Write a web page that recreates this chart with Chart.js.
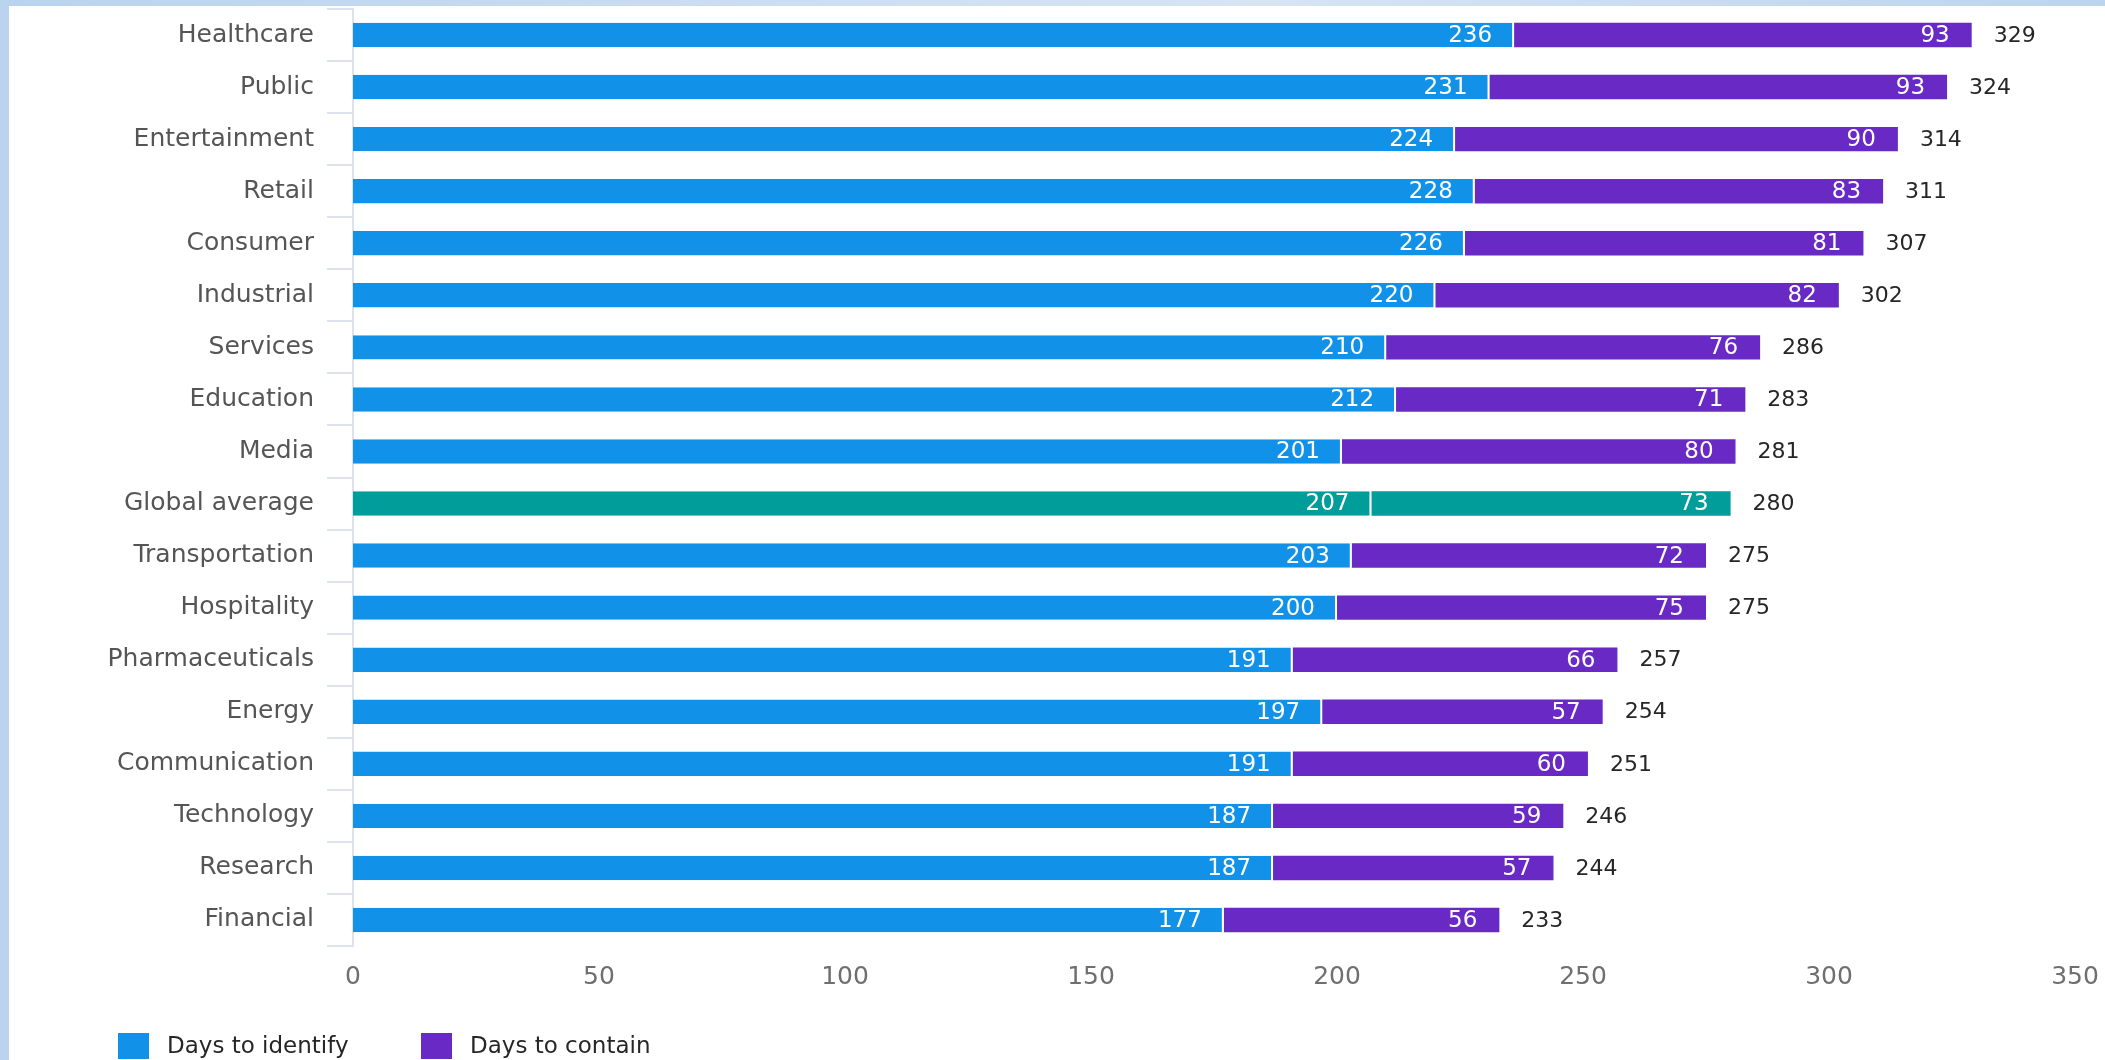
<!DOCTYPE html>
<html>
<head>
<meta charset="utf-8">
<script src="https://cdn.jsdelivr.net/npm/chart.js@4.4.1/dist/chart.umd.min.js"></script>
<style>
  html, body { margin: 0; padding: 0; }
  body {
    width: 2105px; height: 1060px; overflow: hidden;
    background: linear-gradient(90deg, #bad3ee 0%, #d6e4f4 60%, #bcd4ee 100%);
    position: relative;
  }
  #panel { position: absolute; left: 9px; top: 6px; right: 0; bottom: 0; background: #fff; }
  #breachChart { position: absolute; left: 0; top: 0; }
</style>
</head>
<body>
<div id="panel"></div>
<canvas id="breachChart" width="2105" height="1060"></canvas>
<script>
const industries = ['Healthcare', 'Public', 'Entertainment', 'Retail', 'Consumer', 'Industrial', 'Services',
    'Education', 'Media', 'Global average', 'Transportation', 'Hospitality', 'Pharmaceuticals', 'Energy',
    'Communication', 'Technology', 'Research', 'Financial'];
const daysToIdentify = [236, 231, 224, 228, 226, 220, 210, 212, 201, 207, 203, 200, 191, 197, 191, 187, 187, 177];
const daysToContain = [93, 93, 90, 83, 81, 82, 76, 71, 80, 73, 72, 75, 66, 57, 60, 59, 57, 56];
const totalDays = [329, 324, 314, 311, 307, 302, 286, 283, 281, 280, 275, 275, 257, 254, 251, 246, 244, 233];
const xTicks = [0, 50, 100, 150, 200, 250, 300, 350];
const legendLabels = ['Days to identify', 'Days to contain'];

const BLUE = '#1192e8';
const PURPLE = '#6929c4';
const TEAL = '#009d9a';
const FONT = "'DejaVu Sans', sans-serif";

const identifyColors = industries.map(name => name === 'Global average' ? TEAL : BLUE);
const containColors = industries.map(name => name === 'Global average' ? TEAL : PURPLE);

// value labels inside the segments + totals after the bar
const valueLabels = {
    id: 'valueLabels',
    afterDatasetsDraw(chart) {
        const ctx = chart.ctx;
        ctx.save();
        ctx.textBaseline = 'middle';
        chart.data.datasets.forEach((ds, di) => {
            const meta = chart.getDatasetMeta(di);
            meta.data.forEach((bar, i) => {
                ctx.font = '23px ' + FONT;
                ctx.fillStyle = '#ffffff';
                ctx.textAlign = 'right';
                ctx.fillText(ds.data[i], bar.x - 22, bar.y + 1);
                if (di === 1) {
                    ctx.font = '22px ' + FONT;
                    ctx.fillStyle = '#262626';
                    ctx.textAlign = 'left';
                    ctx.fillText(totalDays[i], bar.x + 22, bar.y + 1);
                }
            });
        });
        ctx.restore();
    }
};

// legend at bottom-left, square swatches
const bottomLegend = {
    id: 'bottomLegend',
    afterDraw(chart) {
        const ctx = chart.ctx;
        const colors = [BLUE, PURPLE];
        const boxX = [118, 421];
        ctx.save();
        ctx.font = '23px ' + FONT;
        ctx.textBaseline = 'middle';
        ctx.textAlign = 'left';
        legendLabels.forEach((label, i) => {
            ctx.fillStyle = colors[i];
            ctx.fillRect(boxX[i], 1033, 31, 26);
            ctx.fillStyle = '#262626';
            ctx.fillText(label, boxX[i] + 49, 1047);
        });
        ctx.restore();
    }
};

const ctx = document.getElementById('breachChart').getContext('2d');
const chart = new Chart(ctx, {
    type: 'bar',
    data: {
        labels: industries,
        datasets: [
            {
                label: legendLabels[0],
                data: daysToIdentify,
                backgroundColor: identifyColors,
                borderColor: '#ffffff',
                borderWidth: { right: 2, left: 0, top: 0, bottom: 0 },
                borderSkipped: false,
                barPercentage: 0.47,
                categoryPercentage: 1
            },
            {
                label: legendLabels[1],
                data: daysToContain,
                backgroundColor: containColors,
                borderColor: '#ffffff',
                borderWidth: 0,
                barPercentage: 0.47,
                categoryPercentage: 1
            }
        ]
    },
    options: {
        indexAxis: 'y',
        responsive: false,
        devicePixelRatio: 1,
        animation: false,
        layout: { padding: { left: 100, top: 9, right: 30, bottom: 60 } },
        plugins: {
            legend: { display: false },
            tooltip: { enabled: false }
        },
        scales: {
            x: {
                stacked: true,
                min: 0,
                max: 350,
                afterBuildTicks: scale => { scale.ticks = xTicks.map(v => ({ value: v })); },
                afterFit: scale => {
                    scale.height = 54;
                    scale.paddingLeft = 0;
                    scale.paddingRight = 0;
                },
                grid: { display: false, drawTicks: false },
                border: { display: false },
                ticks: {
                    padding: 16,
                    color: '#6f6f6f',
                    font: { family: FONT, size: 25 }
                }
            },
            y: {
                stacked: true,
                afterFit: scale => {
                    scale.width = 253;
                    scale.paddingTop = 0;
                    scale.paddingBottom = 0;
                },
                grid: {
                    offset: true,
                    drawOnChartArea: false,
                    tickLength: 26,
                    color: '#dde2ee',
                    lineWidth: 2
                },
                border: { display: true, color: '#dde2ee', width: 2 },
                ticks: {
                    padding: 13,
                    color: '#555555',
                    font: { family: FONT, size: 25 }
                }
            }
        }
    },
    plugins: [valueLabels, bottomLegend]
});
</script>
</body>
</html>
